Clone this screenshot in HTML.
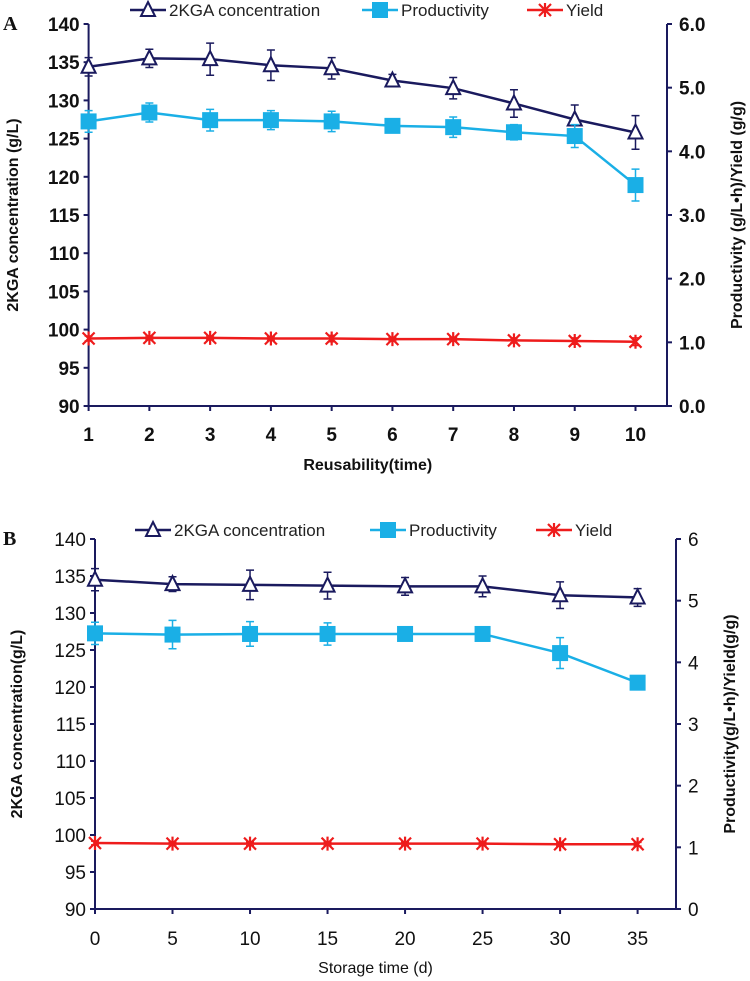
<!DOCTYPE html>
<html><head><meta charset="utf-8"><style>
body{margin:0;background:#fff;width:750px;height:981px;overflow:hidden}
svg{display:block;font-family:"Liberation Sans",sans-serif}
</style></head><body>
<svg id="chart" width="750" height="981"></svg>
<script>
const xA = [1,2,3,4,5,6,7,8,9,10];
const kgaA = [134.4,135.5,135.4,134.6,134.2,132.6,131.6,129.6,127.5,125.8];
const kgaAErr = [1.2,1.2,2.1,2.0,1.4,0.8,1.4,1.8,1.9,2.2];
const prodA = [4.47,4.61,4.49,4.49,4.47,4.40,4.38,4.30,4.24,3.47];
const prodAErr = [0.17,0.15,0.17,0.15,0.16,0.10,0.16,0.12,0.18,0.25];
const yieldA = [1.06,1.07,1.07,1.06,1.06,1.05,1.05,1.03,1.02,1.01];
const yieldAErr = [0.04,0.03,0.03,0.03,0.05,0.03,0.03,0.04,0.05,0.06];
const xB = [0,5,10,15,20,25,30,35];
const kgaB = [134.5,133.9,133.8,133.7,133.6,133.6,132.4,132.1];
const kgaBErr = [1.5,1.0,2.0,1.8,1.2,1.4,1.8,1.2];
const prodB = [4.47,4.45,4.46,4.46,4.46,4.46,4.15,3.67];
const prodBErr = [0.18,0.23,0.20,0.18,0.03,0.03,0.25,0.03];
const yieldB = [1.07,1.06,1.06,1.06,1.06,1.06,1.05,1.05];
const yieldBErr = [0.03,0.03,0.03,0.03,0.03,0.03,0.03,0.03];
const leftTicks = [90,95,100,105,110,115,120,125,130,135,140];
const rightTicksA = ["0.0","1.0","2.0","3.0","4.0","5.0","6.0"];
const rightTicksB = ["0","1","2","3","4","5","6"];

const NS="http://www.w3.org/2000/svg";
const svg=document.getElementById('chart');
function el(tag,attrs,parent,text){const e=document.createElementNS(NS,tag);for(const k in attrs)e.setAttribute(k,attrs[k]);if(text!==undefined)e.textContent=text;(parent||svg).appendChild(e);return e;}
const NAVY="#1a1a5e",CYAN="#1aafe6",RED="#ee1c1c";

function panel(o){
  const g=el('g',{});
  
  
  const X=v=>o.x0+(v-o.xs[0])/(o.xs[o.xs.length-1]-o.xs[0])*(o.x1-o.x0);
  const YL=v=>o.yb-(v-90)/50*(o.yb-o.yt);
  const YR=v=>o.yb-v/6*(o.yb-o.yt);
  const fw=o.tickBold?'bold':'normal';
  el('line',{x1:o.ax,y1:o.yt,x2:o.ax,y2:o.yb,stroke:NAVY,'stroke-width':2},g);
  el('line',{x1:o.rx,y1:o.yt,x2:o.rx,y2:o.yb,stroke:NAVY,'stroke-width':2},g);
  el('line',{x1:o.ax,y1:o.yb,x2:o.rx,y2:o.yb,stroke:NAVY,'stroke-width':2},g);
  leftTicks.forEach(t=>{const y=YL(t);
    el('line',{x1:o.ax-5,y1:y,x2:o.ax,y2:y,stroke:NAVY,'stroke-width':2},g);
    const tx=el('text',{x:o.ax-9,y:y+7,'text-anchor':'end','font-size':19,'font-weight':fw,fill:'#111'},g,t);
    });
  o.rt.forEach((t,i)=>{const y=YR(i);
    el('line',{x1:o.rx,y1:y,x2:o.rx+5,y2:y,stroke:NAVY,'stroke-width':2},g);
    const tx=el('text',{x:o.rx+12,y:y+7,'font-size':19,'font-weight':fw,fill:'#111'},g,t);
    });
  o.xs.forEach(t=>{const x=X(t);
    el('line',{x1:x,y1:o.yb,x2:x,y2:o.yb+5,stroke:NAVY,'stroke-width':2},g);
    const tx=el('text',{x:x,y:o.xly,'text-anchor':'middle','font-size':19,'font-weight':fw,fill:'#111'},g,t);
    });
  function series(vals,errs,Y,color,marker,name){
    const sg=el('g',{},g);
    
    
    el('polyline',{points:o.xs.map((x,i)=>X(x)+','+Y(vals[i])).join(' '),fill:'none',stroke:color,'stroke-width':2.5},sg);
    o.xs.forEach((x,i)=>{const px=X(x),t=Y(vals[i]+errs[i]),b=Y(vals[i]-errs[i]);
      el('path',{d:`M${px},${t}V${b}M${px-4},${t}h8M${px-4},${b}h8`,stroke:color,'stroke-width':1.5,fill:'none'},sg);
      drawMarker(sg,marker,px,Y(vals[i]),color);});
  }
  series(o.kga,o.kgaE,YL,NAVY,'tri',o.name+'-2kga-series');
  series(o.prod,o.prodE,YR,CYAN,'sq',o.name+'-productivity-series');
  series(o.yld,o.yldE,YR,RED,'star',o.name+'-yield-series');
  const lt=el('text',{transform:`translate(${o.ltx},${(o.yt+o.yb)/2}) rotate(-90)`,'text-anchor':'middle','font-size':16,'font-weight':'bold',fill:'#111'},g,o.ltitle);
  
  const rt=el('text',{transform:`translate(${o.rtx},${(o.yt+o.yb)/2}) rotate(-90)`,'text-anchor':'middle','font-size':16,'font-weight':'bold',fill:'#111'},g,o.rtitle);
  
  const xt=el('text',{x:(o.ax+o.rx)/2-10,y:o.xty,'text-anchor':'middle','font-size':16,'font-weight':o.xbold?'bold':'normal',fill:'#111'},g,o.xtitle);
  
  const pl=el('text',{x:3,y:o.yt+6,'font-size':20,'font-weight':'bold','font-family':'Liberation Serif',fill:'#111'},g,o.label);
  
  const lg=el('g',{},g);
  
  const items=[[NAVY,'tri','2KGA concentration',o.lx[0]],[CYAN,'sq','Productivity',o.lx[1]],[RED,'star','Yield',o.lx[2]]];
  items.forEach(([c,m,t,x])=>{
    const e=el('g',{},lg);
    
    el('line',{x1:x,y1:o.ly,x2:x+36,y2:o.ly,stroke:c,'stroke-width':2.5},e);
    drawMarker(e,m,x+18,o.ly,c);
    el('text',{x:x+39,y:o.ly+6,'font-size':17,fill:'#222'},e,t);
  });
}
function drawMarker(p,m,x,y,c){
  if(m==='tri')el('path',{d:`M${x},${y-8}L${x+7},${y+6}L${x-7},${y+6}Z`,fill:'#fff',stroke:c,'stroke-width':2},p);
  else if(m==='sq')el('rect',{x:x-8,y:y-8,width:16,height:16,fill:c},p);
  else el('path',{d:`M${x-6},${y-6}L${x+6},${y+6}M${x+6},${y-6}L${x-6},${y+6}M${x},${y-7}V${y+7}`,stroke:c,'stroke-width':2.2},p);
}
panel({name:'panel-a',xs:xA,kga:kgaA,kgaE:kgaAErr,prod:prodA,prodE:prodAErr,yld:yieldA,yldE:yieldAErr,
  x0:88.6,x1:635.5,ax:88.6,rx:667,yt:24,yb:406,rt:rightTicksA,ltx:18,rtx:742,tickBold:true,xly:441,
  ltitle:'2KGA concentration (g/L)',rtitle:'Productivity (g/L•h)/Yield (g/g)',xtitle:'Reusability(time)',xbold:true,xty:470,
  label:'A',lx:[130,362,527],ly:10});
panel({name:'panel-b',xs:xB,kga:kgaB,kgaE:kgaBErr,prod:prodB,prodE:prodBErr,yld:yieldB,yldE:yieldBErr,
  x0:95,x1:637.6,ax:95,rx:676,yt:539,yb:909,rt:rightTicksB,ltx:22,rtx:735,tickBold:false,xly:945,
  ltitle:'2KGA concentration(g/L)',rtitle:'Productivity(g/L•h)/Yield(g/g)',xtitle:'Storage time (d)',xbold:false,xty:973,
  label:'B',lx:[135,370,536],ly:530});
</script>
</body></html>
